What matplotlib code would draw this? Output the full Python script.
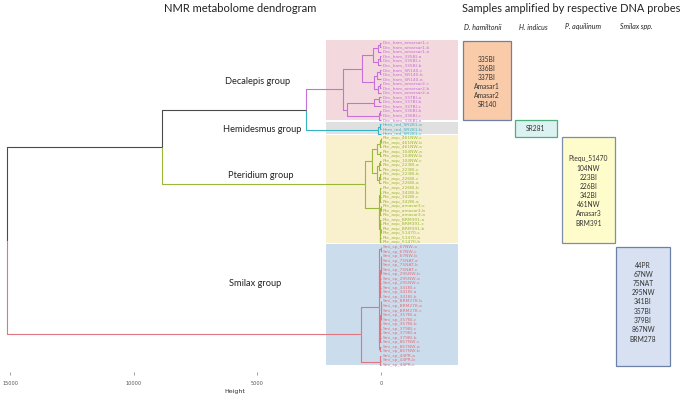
import matplotlib
matplotlib.use('Agg')
import matplotlib.pyplot as plt
from matplotlib.patches import Rectangle

plt.rcParams['font.family'] = ['Lato', 'DejaVu Sans']

# leaf labels, top to bottom
dec_labels = ['Dec_ham_amarsar1-c', 'Dec_ham_amarsar1-b', 'Dec_ham_amarsar1-a',
              'Dec_ham_335BI-a', 'Dec_ham_335BI-c', 'Dec_ham_335BI-b',
              'Dec_ham_SR140-c', 'Dec_ham_SR140-b', 'Dec_ham_SR140-a',
              'Dec_ham_amarsar2-c', 'Dec_ham_amarsar2-b', 'Dec_ham_amarsar2-a',
              'Dec_ham_337BI-a', 'Dec_ham_337BI-b', 'Dec_ham_337BI-c',
              'Dec_ham_336BI-b', 'Dec_ham_336BI-c', 'Dec_ham_336BI-a']
hem_labels = ['Hem_ind_SR281-a', 'Hem_ind_SR281-b', 'Hem_ind_SR281-c']
pte_labels = ['Pte_aqu_461NW-c', 'Pte_aqu_461NW-b', 'Pte_aqu_461NW-a',
              'Pte_aqu_104NW-a', 'Pte_aqu_104NW-b', 'Pte_aqu_104NW-c',
              'Pte_aqu_223BI-a', 'Pte_aqu_223BI-c', 'Pte_aqu_223BI-b',
              'Pte_aqu_226BI-c', 'Pte_aqu_226BI-a', 'Pte_aqu_226BI-b',
              'Pte_aqu_342BI-b', 'Pte_aqu_342BI-c', 'Pte_aqu_342BI-a',
              'Pte_aqu_amasar3-c', 'Pte_aqu_amasar3-b', 'Pte_aqu_amasar3-a',
              'Pte_aqu_BRM391-a', 'Pte_aqu_BRM391-c', 'Pte_aqu_BRM391-b',
              'Pte_aqu_51470-c', 'Pte_aqu_51470-a', 'Pte_aqu_51470-b']
smi_labels = ['Smi_sp_67NW-a', 'Smi_sp_67NW-c', 'Smi_sp_67NW-b',
              'Smi_sp_75NAT-a', 'Smi_sp_75NAT-b', 'Smi_sp_75NAT-c',
              'Smi_sp_295NW-b', 'Smi_sp_295NW-a', 'Smi_sp_295NW-c',
              'Smi_sp_341BI-c', 'Smi_sp_341BI-a', 'Smi_sp_341BI-b',
              'Smi_sp_BRM278-b', 'Smi_sp_BRM278-a', 'Smi_sp_BRM278-c',
              'Smi_sp_357BI-a', 'Smi_sp_357BI-c', 'Smi_sp_357BI-b',
              'Smi_sp_379BI-c', 'Smi_sp_379BI-a', 'Smi_sp_379BI-b',
              'Smi_sp_867NW-c', 'Smi_sp_867NW-a', 'Smi_sp_867NW-b',
              'Smi_sp_44PR-a', 'Smi_sp_44PR-b', 'Smi_sp_44PR-c']

group_names = ['Decalepis group', 'Hemidesmus group', 'Pteridium group', 'Smilax group']
group_colors = ['#c870d8', '#36b4c4', '#9ab83a', '#de7580']
band_colors = ['#f3d9de', '#e0e0e0', '#f9f0cd', '#cbdcec']

# merge heights: (height, upper, lower), ints are leaf indices
dec_tree = (1540,
            (770,
             (330, (140, (40, 0, 1), 2), (120, (50, 3, 4), 5)),
             (300, (150, (60, 6, 7), 8), (130, (40, 9, 10), 11))),
            (1380,
             (280, (90, 12, 13), 14),
             (80, (30, 15, 16), 17)))
hem_tree = (110, (40, 18, 19), 20)
pte_tree = (650,
            (365,
             (150, (60, (20, 21, 22), 23), (40, 24, 25)),
             (170, (70, (30, 26, 27), 28), (90, (40, 29, 30), 31))),
            (80,
             (55, (25, 32, 33), (35, 34, 35)),
             (70, (40, (20, 36, 37), 38),
              (60, (30, 39, 40), (45, (15, 41, 42), (25, 43, 44))))))
smi_a_heights = [8, 12, 15, 20, 24, 27, 31, 35, 40]
smi_b_heights = [6, 10, 14, 17, 21, 26, 30, 33, 37]
smi_pair_a = (20, 45, 46)
smi_pair_b = (30, 67, 68)
smi_low = (60, (22, 69, 70), 71)
smi_a_h = 80
smi_b_h = 75
smi_top_h = 85
smi_root_h = 810
dechem_h = 3040
nonsmi_h = 8870
root_h = 15140


def chain(leaves, heights):
    node = leaves[0]
    for leaf, h in zip(leaves[1:], heights):
        node = (h, node, leaf)
    return node


smi_tree = (smi_root_h,
            (smi_top_h,
             (smi_a_h, smi_pair_a, chain(list(range(47, 57)), smi_a_heights)),
             (smi_b_h, chain(list(range(57, 67)), smi_b_heights), smi_pair_b)),
            smi_low)
tree = (root_h, (nonsmi_h, (dechem_h, dec_tree, hem_tree), pte_tree), smi_tree)

all_labels = dec_labels + hem_labels + pte_labels + smi_labels
groups = [dec_labels, hem_labels, pte_labels, smi_labels]
leaf_color = []
for g, labs in enumerate(groups):
    leaf_color += [group_colors[g]] * len(labs)

W, H = 685, 400
fig = plt.figure(figsize=(6.85, 4.0), dpi=100)
ax = fig.add_axes([0, 28 / H, 1, 372 / H])
s = 0.0247  # px per unit of height
x0 = 381
ax.set_xlim(x0 / s, (x0 - W) / s)
ax.set_ylim((372 - 42.7) / 4.54, -42.7 / 4.54)


def hx(px):
    return (x0 - px) / s


# background bands behind each group
start = 0
for g, labs in enumerate(groups):
    end = start + len(labs) - 1
    ax.add_patch(Rectangle((hx(326), start - 0.6), hx(458) - hx(326), end - start + 0.7,
                           facecolor=band_colors[g], edgecolor='none', zorder=0))
    start = end + 1


def draw(node):
    if isinstance(node, int):
        return node, 0.0, leaf_color[node]
    h, upper, lower = node
    kids = [draw(upper), draw(lower)]
    y = (kids[0][0] + kids[1][0]) / 2
    for yc, hc, col in kids:
        ax.plot([hc, h, h], [yc, yc, y], color=col, lw=0.8, solid_capstyle='butt', zorder=2)
    col = kids[0][2] if kids[0][2] == kids[1][2] else '#4a4a4a'
    return y, h, col


draw(tree)

for i, lab in enumerate(all_labels):
    ax.text(-80, i, lab, fontsize=3.2, color=leaf_color[i], va='center', ha='left',
            family='DejaVu Sans', zorder=3)

for sp in ax.spines.values():
    sp.set_visible(False)
ax.set_yticks([])
ax.set_xticks([15000, 10000, 5000, 0])
ax.set_xticklabels(['15000', '10000', '5000', '0'])
ax.tick_params(axis='x', labelsize=3.6, length=2, width=0.4, pad=4.5, colors='#555555')
for t in ax.get_xticklabels():
    t.set_family('DejaVu Sans')
ax.set_xlabel('Height', fontsize=4.5, family='DejaVu Sans', color='#333333')
ax.xaxis.set_label_coords(235 / W, -17 / 372)


def fx(px, py):
    return px / W, 1 - py / H


# group names
group_pos = [(258, 81), (262, 130), (261, 176), (255, 284)]
for name, (px, py) in zip(group_names, group_pos):
    fig.text(*fx(px, py), name, fontsize=6.7, ha='center', va='center', color='#222222')

fig.text(*fx(240, 9), 'NMR metabolome dendrogram', fontsize=8, ha='center', va='center', color='#222222')
fig.text(*fx(571, 9), 'Samples amplified by respective DNA probes', fontsize=7.9,
         ha='center', va='center', color='#222222')

species = ['D. hamiltonii', 'H. indicus', 'P. aquilinum', 'Smilax spp.']
species_x = [483, 533, 583, 636]
for sp_name, px in zip(species, species_x):
    fig.text(*fx(px, 27), sp_name, fontsize=5, style='italic', ha='center', va='center', color='#222222')

# probe boxes
dec_samples = ['335BI', '336BI', '337BI', 'Amasar1', 'Amasar2', 'SR140']
hem_samples = ['SR281']
pte_samples = ['Ptequ_51470', '104NW', '223BI', '226BI', '342BI', '461NW', 'Amasar3', 'BRM391']
smi_samples = ['44PR', '67NW', '75NAT', '295NW', '341BI', '357BI', '379BI', '867NW', 'BRM278']

boxes = [
    (dec_samples, (463, 41, 511, 120), '#f9cba9', '#6d80a8', 59.3, 9.0),
    (hem_samples, (515, 120, 557, 137), '#dcf1f1', '#4daf7c', 128.8, 9.0),
    (pte_samples, (562, 137, 615, 243), '#fefcca', '#7d8dab', 159.0, 9.15),
    (smi_samples, (616, 247, 670, 366), '#d7e1f1', '#6d80a8', 265.0, 9.25),
]
for samples, (bx0, by0, bx1, by1), fc, ec, ty, dy in boxes:
    fig.add_artist(Rectangle(fx(bx0, by1), (bx1 - bx0) / W, (by1 - by0) / H,
                             transform=fig.transFigure, facecolor=fc, edgecolor=ec, lw=0.9))
    for k, smp in enumerate(samples):
        fig.text(*fx((bx0 + bx1) / 2, ty + k * dy), smp, fontsize=4.8, ha='center', va='center',
                 color='#333333')

fig.savefig('out.png', dpi=100)
